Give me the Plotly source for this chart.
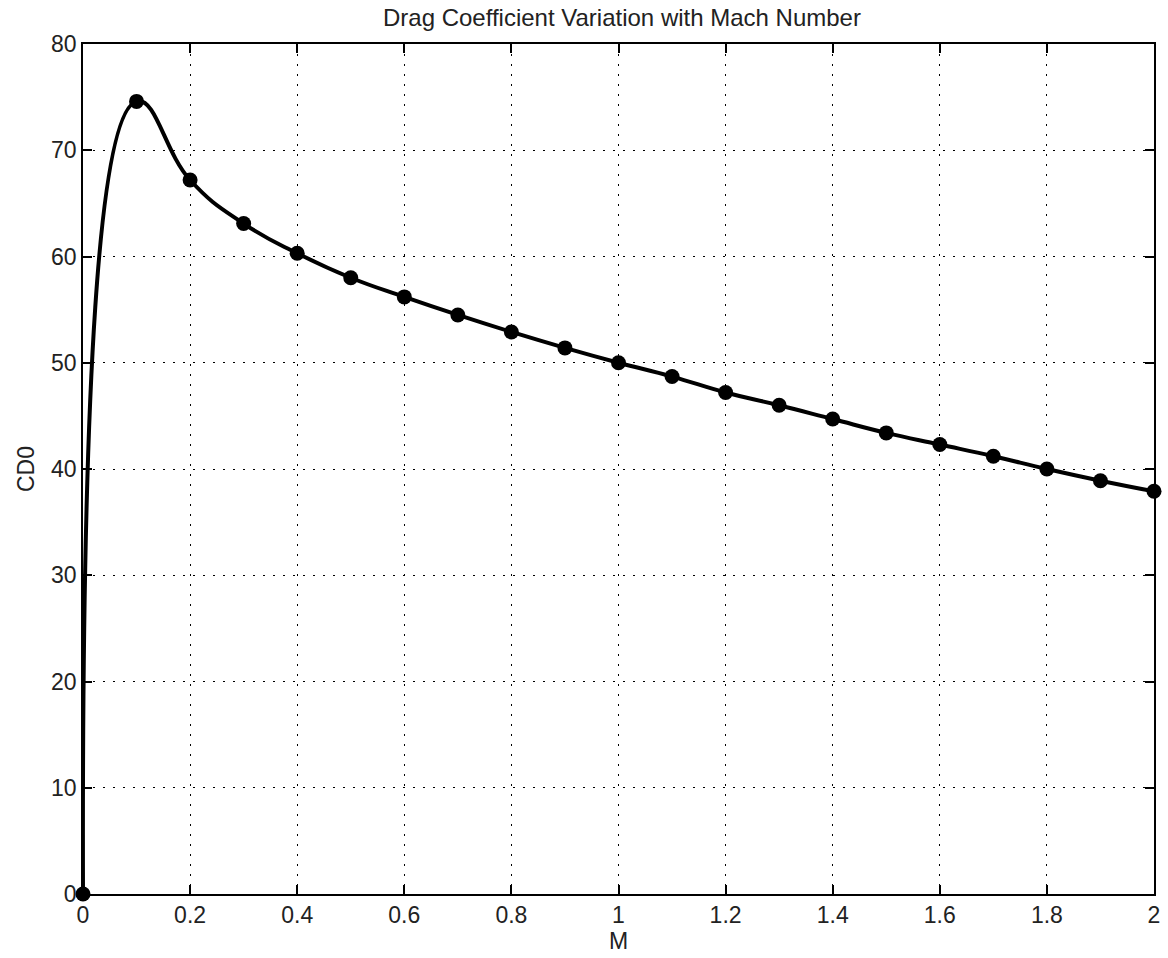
import plotly.graph_objects as go

mach = [0.0, 0.1, 0.2, 0.3, 0.4, 0.5, 0.6, 0.7, 0.8, 0.9, 1.0,
        1.1, 1.2, 1.3, 1.4, 1.5, 1.6, 1.7, 1.8, 1.9, 2.0]
cd0 = [0.0, 74.6, 67.2, 63.1, 60.3, 58.0, 56.2, 54.5, 52.9, 51.4, 50.0,
       48.7, 47.2, 46.0, 44.7, 43.4, 42.3, 41.2, 40.0, 38.9, 37.9]

x_ticks = [0, 0.2, 0.4, 0.6, 0.8, 1.0, 1.2, 1.4, 1.6, 1.8, 2.0]
x_tick_labels = ["0", "0.2", "0.4", "0.6", "0.8", "1", "1.2", "1.4", "1.6", "1.8", "2"]
y_ticks = [0, 10, 20, 30, 40, 50, 60, 70, 80]
y_tick_labels = ["0", "10", "20", "30", "40", "50", "60", "70", "80"]

fig = go.Figure()
fig.add_trace(go.Scatter(
    x=mach, y=cd0, mode="lines+markers",
    line=dict(color="black", width=4, shape="spline", smoothing=1.3),
    marker=dict(color="black", size=15),
    showlegend=False, cliponaxis=False,
))

font = dict(family="Liberation Sans, Arial, sans-serif", size=23, color="#222222")
axis_common = dict(
    showline=True, linecolor="black", linewidth=1.5, mirror="ticks",
    ticks="inside", ticklen=9, tickwidth=1.5, tickcolor="black",
    showgrid=True, gridcolor="black", gridwidth=1.2, griddash="2px,8px",
    zeroline=False, tickfont=font,
)

fig.update_layout(
    width=1168, height=958,
    margin=dict(l=83, r=8, t=44, b=64),
    paper_bgcolor="white", plot_bgcolor="white",
    title=dict(text="Drag Coefficient Variation with Mach Number",
               x=0.5325, xanchor="center", y=0.9817, yanchor="middle",
               font=dict(family="Liberation Sans, Arial, sans-serif", size=24, color="#222222")),
    xaxis=dict(range=[0, 2], tickvals=x_ticks, ticktext=x_tick_labels,
               title=dict(text="M", font=font, standoff=2), **axis_common),
    yaxis=dict(range=[0, 80], tickvals=y_ticks, ticktext=y_tick_labels,
               title=dict(text="CD0", font=font, standoff=10), **axis_common),
)

fig.write_html("out.html", config={"displayModeBar": False},
               post_script="document.body.style.margin='0';")
